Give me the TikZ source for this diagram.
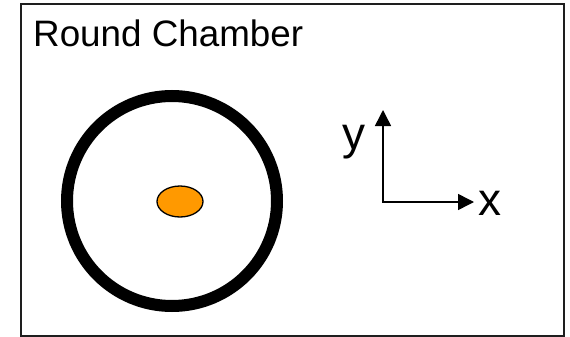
\documentclass[tikz,border=0pt]{standalone}
\usepackage{fontspec}
\setmainfont{Liberation Sans}
\usetikzlibrary{arrows.meta,shapes.geometric}
\definecolor{cBeam} {RGB}{255, 153, 0}
\definecolor{cFrame}{RGB}{30,  30,  30}
\tikzset{
  frameB/.style  = {draw=cFrame, line width=1.6pt},
  titleT/.style  = {anchor=base west, inner sep=0pt,
                    font=\fontsize{36.8}{40}\selectfont},
  chamber/.style = {circle, draw=black, line width=12pt,
                    minimum size=210pt, inner sep=0pt},
  beam/.style    = {ellipse, draw=black, line width=1.3pt, fill=cBeam,
                    minimum width=46pt, minimum height=31pt, inner sep=0pt},
  axis/.style    = {line width=1.5pt,
                    {Triangle[length=16pt,width=16pt]}-{Triangle[length=16pt,width=16pt]}},
  axT/.style     = {anchor=base west, inner sep=0pt,
                    font=\fontsize{46}{50}\selectfont},
}
\begin{document}
\begin{tikzpicture}[x=1pt,y=-1pt]

\useasboundingbox (0,0) rectangle (570,337);

%% frame and title
\draw[frameB] (21,4) rectangle (564,336);
\node[titleT] (title) at (33,47) {Round Chamber};

%% chamber with the beam
\node[chamber] (chamber) at (172,201) {};
\node[beam] (beam) at (180,201.5) {};

%% axes
\coordinate (origin) at (383,202);
\coordinate (ytip)   at (383,110);
\coordinate (xtip)   at (474,202);
\draw[axis] (ytip) -- (origin) -- (xtip);

\node[axT] (xlabel) at (478,215) {x};
\node[axT] (ylabel) at (342,149) {y};

\end{tikzpicture}
\end{document}
